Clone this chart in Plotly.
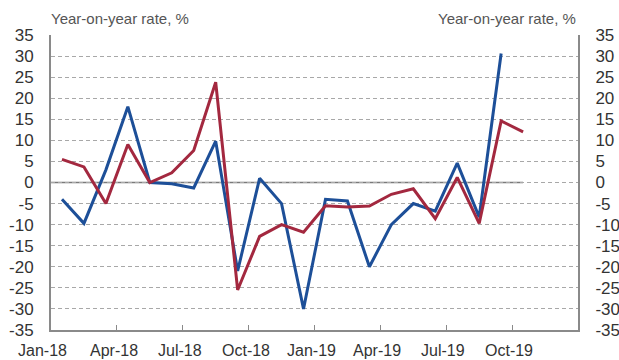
import plotly.graph_objects as go

# Monthly series, Jan-18 .. Oct-19 (year-on-year change, %)
months = ["Jan-18", "Feb-18", "Mar-18", "Apr-18", "May-18", "Jun-18", "Jul-18", "Aug-18",
          "Sep-18", "Oct-18", "Nov-18", "Dec-18", "Jan-19", "Feb-19", "Mar-19", "Apr-19",
          "May-19", "Jun-19", "Jul-19", "Aug-19", "Sep-19", "Oct-19"]
blue_values = [-4.0, -9.7, 3.0, 18.0, 0.0, -0.3, -1.3, 9.8, -21.0, 1.0, -5.0, -30.0,
               -4.0, -4.4, -20.0, -10.0, -5.0, -6.8, 4.6, -8.2, 30.6]
red_values = [5.5, 3.7, -5.0, 9.0, 0.0, 2.3, 7.6, 23.8, -25.5, -12.8, -10.0, -11.8,
              -5.5, -5.8, -5.6, -2.8, -1.5, -8.6, 1.2, -9.7, 14.6, 12.0]
tick_labels = ["Jan-18", "Apr-18", "Jul-18", "Oct-18", "Jan-19", "Apr-19", "Jul-19", "Oct-19"]
y_ticks = list(range(-35, 40, 5))

BLUE = "#1d4f98"
RED = "#a3283f"
GRID = "#a8a8a8"
SPINE = "#8a8a8a"
TEXT = "#333333"
FONT = "Liberation Sans, Arial, sans-serif"


# each month occupies one unit; points sit in the middle of their month
def month_pos(i):
    return i + 0.5


tick_pos = [months.index(t) for t in tick_labels]

fig = go.Figure()
fig.add_trace(go.Scatter(x=[month_pos(i) for i in range(len(blue_values))], y=blue_values,
                         mode="lines", line=dict(color=BLUE, width=3), showlegend=False))
fig.add_trace(go.Scatter(x=[month_pos(i) for i in range(len(red_values))], y=red_values,
                         mode="lines", line=dict(color=RED, width=3), showlegend=False))
# invisible trace to bring the right-hand axis into existence
fig.add_trace(go.Scatter(x=[0], y=[0], yaxis="y2", mode="lines", line=dict(width=0),
                         hoverinfo="skip", showlegend=False))

# solid zero line running up to the last observed month
fig.add_shape(type="line", xref="x", yref="y", x0=0, x1=month_pos(len(red_values) - 1),
              y0=0, y1=0, line=dict(color="#7a7a7a", width=1.3), layer="below")

yaxis_common = dict(range=[-35, 35], tickvals=y_ticks, ticktext=[str(v) for v in y_ticks],
                    zeroline=False, showline=True, linecolor=SPINE, linewidth=2,
                    ticks="", tickfont=dict(family=FONT, size=17, color=TEXT),
                    ticklabelstandoff=12, fixedrange=True, automargin=False)

# quarterly date labels sit just under the axis, slightly left of their tick
x_label_annotations = []
for lbl, pos in zip(tick_labels, tick_pos):
    x_label_annotations.append(dict(
        text=lbl, xref="x", yref="paper", x=pos, y=0, yshift=-20,
        xshift=-9 if pos == 0 else -3,
        xanchor="center", yanchor="middle", showarrow=False,
        font=dict(family=FONT, size=16, color=TEXT)))

fig.update_layout(
    width=619, height=360,
    margin=dict(l=51, r=41, t=35, b=30),
    paper_bgcolor="white", plot_bgcolor="white",
    xaxis=dict(range=[0, 24], showticklabels=False, ticks="", showgrid=False,
               zeroline=False, showline=True, linecolor=SPINE, linewidth=2,
               automargin=False, fixedrange=True,
               minor=dict(tickvals=tick_pos[1:], ticks="inside", ticklen=5,
                          tickwidth=1, tickcolor=SPINE, showgrid=False)),
    yaxis=dict(**yaxis_common, side="left", showgrid=True, gridcolor=GRID,
               griddash="4px,3px", gridwidth=1),
    yaxis2=dict(**yaxis_common, side="right", overlaying="y", showgrid=False),
    annotations=[
        dict(text="Year-on-year rate, %", xref="paper", yref="paper", x=0, y=1,
             xanchor="left", yanchor="bottom", yshift=6, xshift=-2, showarrow=False,
             font=dict(family=FONT, size=15, color="#555555")),
        dict(text="Year-on-year rate, %", xref="paper", yref="paper", x=1, y=1,
             xanchor="right", yanchor="bottom", yshift=6, showarrow=False,
             font=dict(family=FONT, size=15, color="#555555")),
    ] + x_label_annotations,
)

fig.write_html("out.html")
